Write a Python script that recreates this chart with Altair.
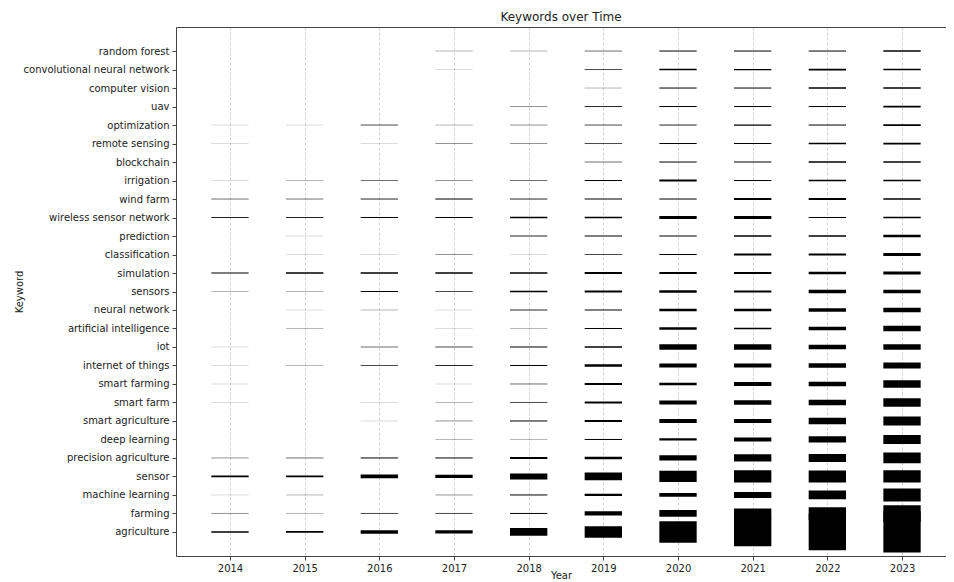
import json
import altair as alt
import pandas as pd

years = [2014, 2015, 2016, 2017, 2018, 2019, 2020, 2021, 2022, 2023]

# top to bottom, as shown on the y axis
keywords = [
    "random forest", "convolutional neural network", "computer vision", "uav",
    "optimization", "remote sensing", "blockchain", "irrigation", "wind farm",
    "wireless sensor network", "prediction", "classification", "simulation",
    "sensors", "neural network", "artificial intelligence", "iot",
    "internet of things", "smart farming", "smart farm", "smart agriculture",
    "deep learning", "precision agriculture", "sensor", "machine learning",
    "farming", "agriculture",
]

# keyword frequency per year (2014 .. 2023)
random_forest = [0, 0, 0, 2, 2, 4, 8, 7, 8, 15]
convolutional_neural_network = [0, 0, 0, 1, 0, 5, 16, 12, 17, 15]
computer_vision = [0, 0, 0, 0, 0, 2, 7, 8, 16, 15]
uav = [0, 0, 0, 0, 3, 6, 7, 10, 9, 17]
optimization = [1, 1, 5, 2, 3, 5, 6, 12, 7, 17]
remote_sensing = [1, 0, 1, 3, 3, 5, 8, 11, 15, 17]
blockchain = [0, 0, 0, 0, 0, 4, 8, 12, 13, 17]
irrigation = [1, 2, 4, 3, 4, 10, 22, 10, 13, 17]
wind_farm = [4, 4, 6, 8, 6, 12, 8, 18, 18, 17]
wireless_sensor_network = [6, 6, 8, 7, 14, 14, 30, 30, 11, 17]
prediction = [0, 1, 0, 0, 6, 7, 9, 14, 16, 25]
classification = [0, 1, 1, 3, 1, 5, 10, 18, 21, 30]
simulation = [11, 15, 15, 17, 14, 18, 22, 18, 25, 30]
sensors = [2, 2, 12, 5, 16, 20, 26, 22, 35, 35]
neural_network = [0, 1, 2, 1, 6, 8, 27, 27, 33, 47]
artificial_intelligence = [0, 2, 0, 1, 2, 8, 23, 17, 37, 53]
iot = [1, 0, 4, 5, 10, 17, 53, 57, 47, 57]
internet_of_things = [1, 2, 5, 6, 8, 23, 40, 40, 47, 60]
smart_farming = [1, 0, 0, 1, 4, 18, 27, 40, 47, 73]
smart_farm = [1, 0, 1, 2, 5, 20, 40, 43, 57, 87]
smart_agriculture = [0, 0, 1, 3, 7, 20, 40, 40, 67, 90]
deep_learning = [0, 0, 0, 2, 2, 7, 23, 40, 63, 90]
precision_agriculture = [3, 4, 7, 10, 20, 25, 53, 73, 80, 107]
sensor = [18, 18, 38, 33, 60, 77, 113, 123, 120, 123]
machine_learning = [1, 2, 0, 3, 10, 23, 37, 60, 87, 130]
farming = [3, 2, 5, 5, 8, 43, 67, 100, 124, 164]
agriculture = [14, 18, 36, 33, 77, 115, 215, 285, 366, 413]

series = [
    random_forest, convolutional_neural_network, computer_vision, uav,
    optimization, remote_sensing, blockchain, irrigation, wind_farm,
    wireless_sensor_network, prediction, classification, simulation,
    sensors, neural_network, artificial_intelligence, iot,
    internet_of_things, smart_farming, smart_farm, smart_agriculture,
    deep_learning, precision_agriculture, sensor, machine_learning,
    farming, agriculture,
]

n = len(keywords)
rows = []
for i, (kw, vals) in enumerate(zip(keywords, series)):
    for yr, v in zip(years, vals):
        if v > 0:
            # category position: 0 = bottom row (agriculture)
            rows.append({"keyword": kw, "pos": n - 1 - i, "year": yr, "count": v})
df = pd.DataFrame(rows)

names_bottom_up = keywords[::-1]
label_expr = json.dumps(names_bottom_up) + "[datum.value]"

FONT = "DejaVu Sans"
TXT = "#222222"
SPINE = "#444444"

x_scale = alt.Scale(domain=[2013.277, 2023.589], nice=False, zero=False)
y_scale = alt.Scale(domain=[-1.3, n - 1 + 1.3], nice=False, zero=False)


def y_axis():
    return alt.Axis(
        title="Keyword", grid=False, domain=True, domainColor=SPINE,
        values=list(range(n)), labelExpr=label_expr,
        labelOverlap=False, labelFlush=False,
        tickColor=SPINE, tickSize=4,
        labelFont=FONT, labelFontSize=10, labelColor=TXT, labelPadding=3,
        titleFont=FONT, titleFontSize=10, titleFontWeight="normal",
        titleColor=TXT, titleX=-152,
    )


base = alt.Chart(df).transform_calculate(
    x1="datum.year - 0.25", x2="datum.year + 0.25"
)

bars = base.mark_rule(color="black", strokeCap="butt").encode(
    x=alt.X(
        "x1:Q",
        scale=x_scale,
        axis=alt.Axis(
            orient="bottom", values=years, format="d", title="Year", grid=True,
            gridDash=[3, 2], gridColor="#c8c8c8", gridWidth=0.8,
            domain=True, domainColor=SPINE, tickColor=SPINE, tickSize=4,
            labelFont=FONT, labelFontSize=10, labelColor=TXT, labelPadding=3,
            titleFont=FONT, titleFontSize=10, titleFontWeight="normal",
            titleColor=TXT, titleY=14,
        ),
    ),
    x2="x2:Q",
    y=alt.Y("pos:Q", scale=y_scale, axis=y_axis()),
    strokeWidth=alt.StrokeWidth(
        "count:Q",
        scale=alt.Scale(domain=[0, 10, 500], range=[1, 1, 50]),
        legend=None,
    ),
    opacity=alt.Opacity(
        "count:Q",
        scale=alt.Scale(domain=[0, 7], range=[0, 1], clamp=True),
        legend=None,
    ),
    tooltip=["keyword:N", "year:O", "count:Q"],
)

# invisible copy that only carries the top spine
top_spine = base.mark_rule(opacity=0).encode(
    x=alt.X(
        "x1:Q",
        scale=x_scale,
        axis=alt.Axis(
            orient="top", labels=False, ticks=False, grid=False, title=None,
            domain=True, domainColor=SPINE,
        ),
    ),
    x2="x2:Q",
    y=alt.Y("pos:Q", scale=y_scale, axis=y_axis()),
)

chart = (
    alt.layer(bars, top_spine)
    .resolve_axis(x="independent")
    .properties(
        width=770,
        height=529,
        title=alt.TitleParams(
            "Keywords over Time", font=FONT, fontSize=12,
            fontWeight="normal", color=TXT, offset=3, anchor="middle",
        ),
        padding={"left": 168, "top": 19, "right": 0, "bottom": 26},
        autosize=alt.AutoSizeParams(type="none"),
    )
    .configure_view(stroke=None)
)

chart.save("out.html", embed_options={"renderer": "svg", "actions": False})
